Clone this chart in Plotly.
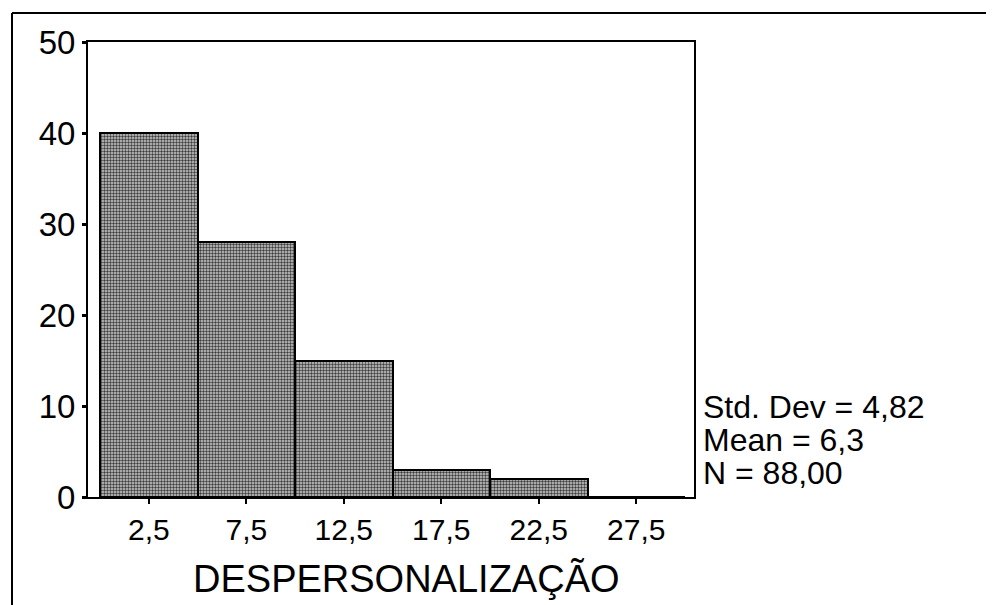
import plotly.graph_objects as go

bin_centers = [2.5, 7.5, 12.5, 17.5, 22.5, 27.5]
counts = [40, 28, 15, 3, 2, 0]
tick_labels = ["2,5", "7,5", "12,5", "17,5", "22,5", "27,5"]
y_ticks = [0, 10, 20, 30, 40, 50]
x_title = "DESPERSONALIZAÇÃO"
stats_lines = ["Std. Dev = 4,82", "Mean = 6,3", "N = 88,00"]

FONT = "Liberation Sans, Arial, sans-serif"

# page body has an 8px default margin; work in figure pixels (page px - 8)
OFF = 8
W, H = 994 - OFF, 605 - OFF
L, R, T, B = 88 - OFF, 694 - OFF, 42 - OFF, 497 - OFF
PW, PH = R - L, B - T


def px_x(x):
    return (x - OFF - L) / PW


def px_y(y):
    return (B - (y - OFF)) / PH


fig = go.Figure()
fig.add_trace(go.Bar(
    x=bin_centers, y=counts, width=5,
    marker=dict(
        color="#a0a0a0",
        line=dict(color="black", width=2),
        pattern=dict(shape=".", fgcolor="#3c3c3c", bgcolor="#cccccc",
                     size=3, solidity=0.5, fillmode="replace"),
    ),
    showlegend=False,
))

fig.update_layout(
    width=W, height=H,
    margin=dict(l=L, r=W - R, t=T, b=H - B, autoexpand=False),
    paper_bgcolor="white", plot_bgcolor="white",
    font=dict(family=FONT, color="black"),
    bargap=0,
)
fig.update_xaxes(
    range=[-0.62, 30.46], tickvals=bin_centers, ticktext=tick_labels,
    tickfont=dict(size=30), ticks="outside", ticklen=5, tickwidth=2,
    tickcolor="black", showgrid=False, zeroline=False,
    showline=True, mirror=True, linecolor="black", linewidth=2,
)
fig.update_yaxes(
    range=[0, 50], tickvals=y_ticks, tickfont=dict(size=33),
    ticks="outside", ticklen=4, tickwidth=3, tickcolor="black",
    showgrid=False, zeroline=False,
    showline=True, mirror=True, linecolor="black", linewidth=2,
)

# x-axis title
fig.add_annotation(text=x_title, xref="paper", yref="paper",
                   x=px_x(406), y=px_y(579),
                   xanchor="center", yanchor="middle", showarrow=False,
                   font=dict(size=38, family=FONT))

# statistics text
stat_y_px = [406, 439, 472]
for line, ypx in zip(stats_lines, stat_y_px):
    fig.add_annotation(text=line, xref="paper", yref="paper",
                       x=px_x(702), y=px_y(ypx),
                       xanchor="left", yanchor="middle", showarrow=False,
                       height=31, borderpad=0, valign="middle",
                       font=dict(size=32, family=FONT))

# outer frame (top and left edges)
fig.add_shape(type="line", xref="paper", yref="paper",
              x0=px_x(12), x1=px_x(1010),
              y0=px_y(13), y1=px_y(13),
              line=dict(color="black", width=2))
fig.add_shape(type="line", xref="paper", yref="paper",
              x0=px_x(12), x1=px_x(12),
              y0=px_y(13), y1=px_y(640),
              line=dict(color="black", width=2))

fig.write_html("out.html")
